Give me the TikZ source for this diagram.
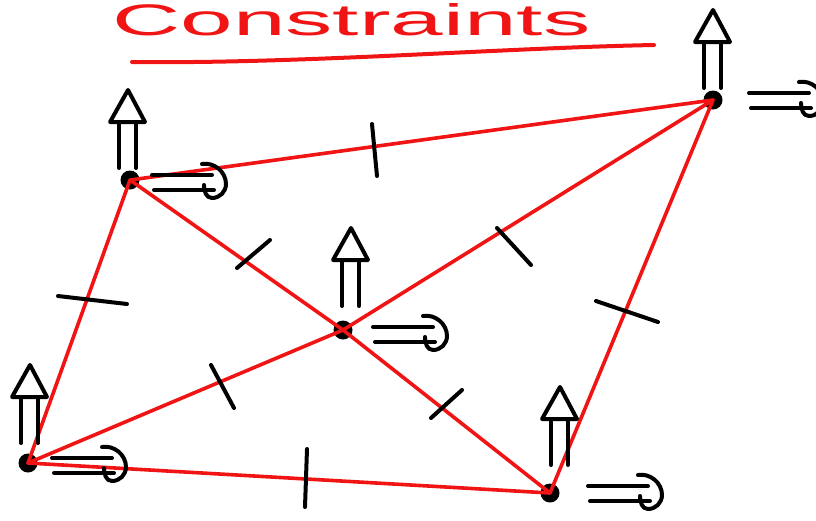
\documentclass[tikz,border=0pt]{standalone}
\usepackage{fontspec}
\setmainfont{Liberation Sans}
\usetikzlibrary{positioning, calc}
\definecolor{barred}{RGB}{240, 20, 20}

\tikzset{
    pics/dofup/.style={code={
        \draw[line width=4pt] (-9,0) -- (-9,-46);
        \draw[line width=4pt] (8,0) -- (8,-46);
        \draw[line width=4pt] (-18,-46) -- (0,-78) -- (17,-46) -- cycle;
    }},
    pics/dofright/.style={code={
        \draw[line width=4pt] (0,-7) -- (60,-7);
        \draw[line width=4pt] (2,8) -- (62,8);
        \draw[line width=4pt] (50,-18) to[out=10,in=90] (74,2) to[out=-90,in=0] (60,16) to[out=180,in=-90] (52,3);
    }}
}

\begin{document}
\begin{tikzpicture}[x=1pt, y=-1pt, line cap=round, line join=round,
    joint/.style={circle, fill=black, inner sep=0pt, minimum size=19pt},
    bar/.style={draw=barred, line width=3.6pt},
    tickmark/.style={draw=black, line width=4pt},
    titletext/.style={text=barred, inner sep=0pt, anchor=south west}]

    \useasboundingbox (0,0) rectangle (816,520);

    % Title
    \node[titletext] (title) at (112,36) {\resizebox{478pt}{32pt}{Constraints}};
    \draw[barred, line width=4pt] (132,62) .. controls (300,64) and (500,48) .. (654,45);

    % Joints
    \node[joint] (tl) at (130,180) {};
    \node[joint] (tr) at (713,100) {};
    \node[joint] (mid) at (343,330) {};
    \node[joint] (bl) at (28,463) {};
    \node[joint] (br) at (550,493) {};

    % Bars
    \draw[bar] (tl.center) -- (tr.center);
    \draw[bar] (tl.center) -- (bl.center);
    \draw[bar] (bl.center) -- (br.center);
    \draw[bar] (tr.center) -- (br.center);
    \draw[bar] (tl.center) -- (mid.center);
    \draw[bar] (mid.center) -- (br.center);
    \draw[bar] (bl.center) -- (mid.center);
    \draw[bar] (mid.center) -- (tr.center);

    % Tick marks on the bars
    \draw[tickmark] (372,124) -- (377,176);
    \draw[tickmark] (58,296) -- (127,304);
    \draw[tickmark] (307,449) -- (305,507);
    \draw[tickmark] (596,301) -- (658,322);
    \draw[tickmark] (237,268) -- (270,240);
    \draw[tickmark] (497,228) -- (531,265);
    \draw[tickmark] (211,365) -- (234,408);
    \draw[tickmark] (431,418) -- (462,390);

    % Degrees of freedom
    \pic at ($(tl)+(-2,-12)$) {dofup};
    \pic at ($(tl)+(22,2)$) {dofright};
    \pic at ($(tr)+(0,-12)$) {dofup};
    \pic at ($(tr)+(36,0)$) {dofright};
    \pic at ($(mid)+(8,-24)$) {dofup};
    \pic at ($(mid)+(30,4)$) {dofright};
    \pic at ($(bl)+(2,-20)$) {dofup};
    \pic at ($(bl)+(24,2)$) {dofright};
    \pic at ($(br)+(10,-28)$) {dofup};
    \pic at ($(br)+(38,0)$) {dofright};
\end{tikzpicture}
\end{document}
